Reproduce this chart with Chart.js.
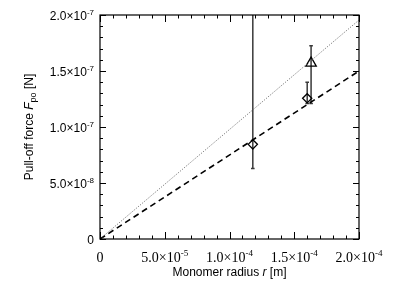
<!DOCTYPE html>
<html>
<head>
<meta charset="utf-8">
<script src="https://cdn.jsdelivr.net/npm/chart.js@4.4.1/dist/chart.umd.min.js"></script>
<style>
  html, body { margin: 0; padding: 0; background: #fff; }
</style>
</head>
<body>
<canvas id="pulloff" width="399" height="299"></canvas>
<script>
// fitted lines (through origin)
const fitX = [0, 2.0e-4];
const fitDotted = [0, 1.955e-7];
const fitDashed = [0, 1.5e-7];

// measurements: diamonds
const diamondX = [1.18e-4, 1.60e-4];
const diamondY = [0.845e-7, 1.256e-7];
const diamondLo = [0.63e-7, 1.21e-7];
const diamondHi = [2.3e-7, 1.40e-7];

// measurements: triangle
const triangleX = [1.63e-4];
const triangleY = [1.57e-7];
const triangleLo = [1.21e-7];
const triangleHi = [1.726e-7];

// axes
const xTicks = [0, 5e-5, 1e-4, 1.5e-4, 2e-4];
const xTickLabels = ['0', '5.0×10^-5', '1.0×10^-4', '1.5×10^-4', '2.0×10^-4'];
const yTicks = [0, 5e-8, 1e-7, 1.5e-7, 2e-7];
const yTickLabels = ['0', '5.0×10^-8', '1.0×10^-7', '1.5×10^-7', '2.0×10^-7'];
const xMinorStep = 1e-5;
const yMinorStep = 1e-8;

const toPoints = (xs, ys) => xs.map((x, i) => ({ x: x, y: ys[i] }));

// text with an optional "^exponent"
function drawSup(ctx, text, x, y, align, font, supFont, rise) {
  const parts = text.split('^');
  ctx.font = font;
  const w1 = ctx.measureText(parts[0]).width;
  let w2 = 0;
  if (parts[1]) { ctx.font = supFont; w2 = ctx.measureText(parts[1]).width; }
  let start = x;
  if (align === 'center') start = x - (w1 + w2) / 2;
  if (align === 'right') start = x - (w1 + w2);
  ctx.textAlign = 'left';
  ctx.textBaseline = 'alphabetic';
  ctx.font = font;
  ctx.fillText(parts[0], start, y);
  if (parts[1]) {
    ctx.font = supFont;
    ctx.fillText(parts[1], start + w1, y - rise);
  }
}

const errorBars = {
  id: 'errorBars',
  beforeDatasetsDraw(chart) {
    const { ctx, chartArea: a, scales: { x, y } } = chart;
    ctx.save();
    ctx.beginPath();
    ctx.rect(a.left, a.top, a.right - a.left, a.bottom - a.top);
    ctx.clip();
    ctx.strokeStyle = '#3a3a3a';
    ctx.lineWidth = 1.5;
    const bars = [[diamondX, diamondLo, diamondHi], [triangleX, triangleLo, triangleHi]];
    bars.forEach(([xs, lo, hi]) => {
      xs.forEach((v, i) => {
        const px = x.getPixelForValue(v);
        const p1 = y.getPixelForValue(lo[i]);
        const p2 = y.getPixelForValue(hi[i]);
        ctx.beginPath();
        ctx.moveTo(px, p1); ctx.lineTo(px, p2);
        ctx.moveTo(px - 1.8, p1); ctx.lineTo(px + 1.8, p1);
        ctx.moveTo(px - 1.8, p2); ctx.lineTo(px + 1.8, p2);
        ctx.stroke();
      });
    });
    ctx.restore();
  }
};

const idlAxes = {
  id: 'idlAxes',
  afterDraw(chart) {
    const { ctx, chartArea: a, scales: { x, y } } = chart;
    ctx.save();
    ctx.strokeStyle = '#000';
    ctx.lineWidth = 1.2;
    ctx.strokeRect(a.left, a.top, a.right - a.left, a.bottom - a.top);

    ctx.lineWidth = 1;
    ctx.beginPath();
    for (let i = 0; i <= 20; i++) {
      const px = Math.round(x.getPixelForValue(i * xMinorStep)) + 0.5;
      const len = i % 5 === 0 ? 7 : 3.5;
      ctx.moveTo(px, a.bottom); ctx.lineTo(px, a.bottom - len);
      ctx.moveTo(px, a.top); ctx.lineTo(px, a.top + len);
    }
    for (let i = 0; i <= 20; i++) {
      const py = Math.round(y.getPixelForValue(i * yMinorStep)) + 0.5;
      const len = i % 5 === 0 ? 6 : 3;
      ctx.moveTo(a.left, py); ctx.lineTo(a.left + len, py);
      ctx.moveTo(a.right, py); ctx.lineTo(a.right - len, py);
    }
    ctx.stroke();

    ctx.fillStyle = '#000';
    xTicks.forEach((v, i) => {
      drawSup(ctx, xTickLabels[i], x.getPixelForValue(v), 262, 'center',
        '14px "Liberation Serif"', '9px "Liberation Serif"', 6);
    });
    yTicks.forEach((v, i) => {
      drawSup(ctx, yTickLabels[i], 94, y.getPixelForValue(v) + 4.5, 'right',
        '12px "Liberation Sans"', '8px "Liberation Sans"', 5);
    });

    // x title
    const sans = '12px "Liberation Sans"';
    const ital = 'italic 12px "Liberation Sans"';
    const small = '9px "Liberation Sans"';
    const xParts = [['Monomer radius ', sans, 0], ['r', ital, 0], [' [m]', sans, 0]];
    drawParts(ctx, xParts, (a.left + a.right) / 2, 276);

    // y title
    ctx.translate(33, (a.top + a.bottom) / 2);
    ctx.rotate(-Math.PI / 2);
    const yParts = [['Pull-off force ', sans, 0], ['F', ital, 0], ['po', small, -3], [' [N]', sans, 0]];
    drawParts(ctx, yParts, 0, 0);
    ctx.restore();
  }
};

function drawParts(ctx, parts, cx, baseY) {
  let total = 0;
  parts.forEach(p => { ctx.font = p[1]; total += ctx.measureText(p[0]).width; });
  let px = cx - total / 2;
  ctx.textAlign = 'left';
  ctx.textBaseline = 'alphabetic';
  parts.forEach(p => {
    ctx.font = p[1];
    ctx.fillText(p[0], px, baseY - p[2]);
    px += ctx.measureText(p[0]).width;
  });
}

const ctx = document.getElementById('pulloff').getContext('2d');
const pulloffChart = new Chart(ctx, {
  type: 'scatter',
  data: {
    datasets: [
      {
        type: 'line',
        data: toPoints(fitX, fitDotted),
        borderColor: '#666',
        borderWidth: 1,
        borderDash: [1, 1.5],
        pointRadius: 0,
        fill: false
      },
      {
        type: 'line',
        data: toPoints(fitX, fitDashed),
        borderColor: '#000',
        borderWidth: 1.6,
        borderDash: [6, 4],
        pointRadius: 0,
        fill: false
      },
      {
        data: toPoints(diamondX, diamondY),
        pointStyle: 'rectRot',
        pointRadius: 4.6,
        borderColor: '#000',
        borderWidth: 1.3,
        backgroundColor: 'rgba(0,0,0,0)'
      },
      {
        data: toPoints(triangleX, triangleY),
        pointStyle: 'triangle',
        pointRadius: 6,
        borderColor: '#000',
        borderWidth: 1.3,
        backgroundColor: 'rgba(0,0,0,0)'
      }
    ]
  },
  options: {
    responsive: false,
    animation: false,
    devicePixelRatio: 1,
    layout: { padding: { left: 100, right: 40, top: 15, bottom: 60 } },
    plugins: { legend: { display: false }, tooltip: { enabled: false } },
    scales: {
      x: { type: 'linear', min: 0, max: 2e-4, display: false },
      y: { type: 'linear', min: 0, max: 2e-7, display: false }
    }
  },
  plugins: [errorBars, idlAxes]
});
</script>
</body>
</html>
